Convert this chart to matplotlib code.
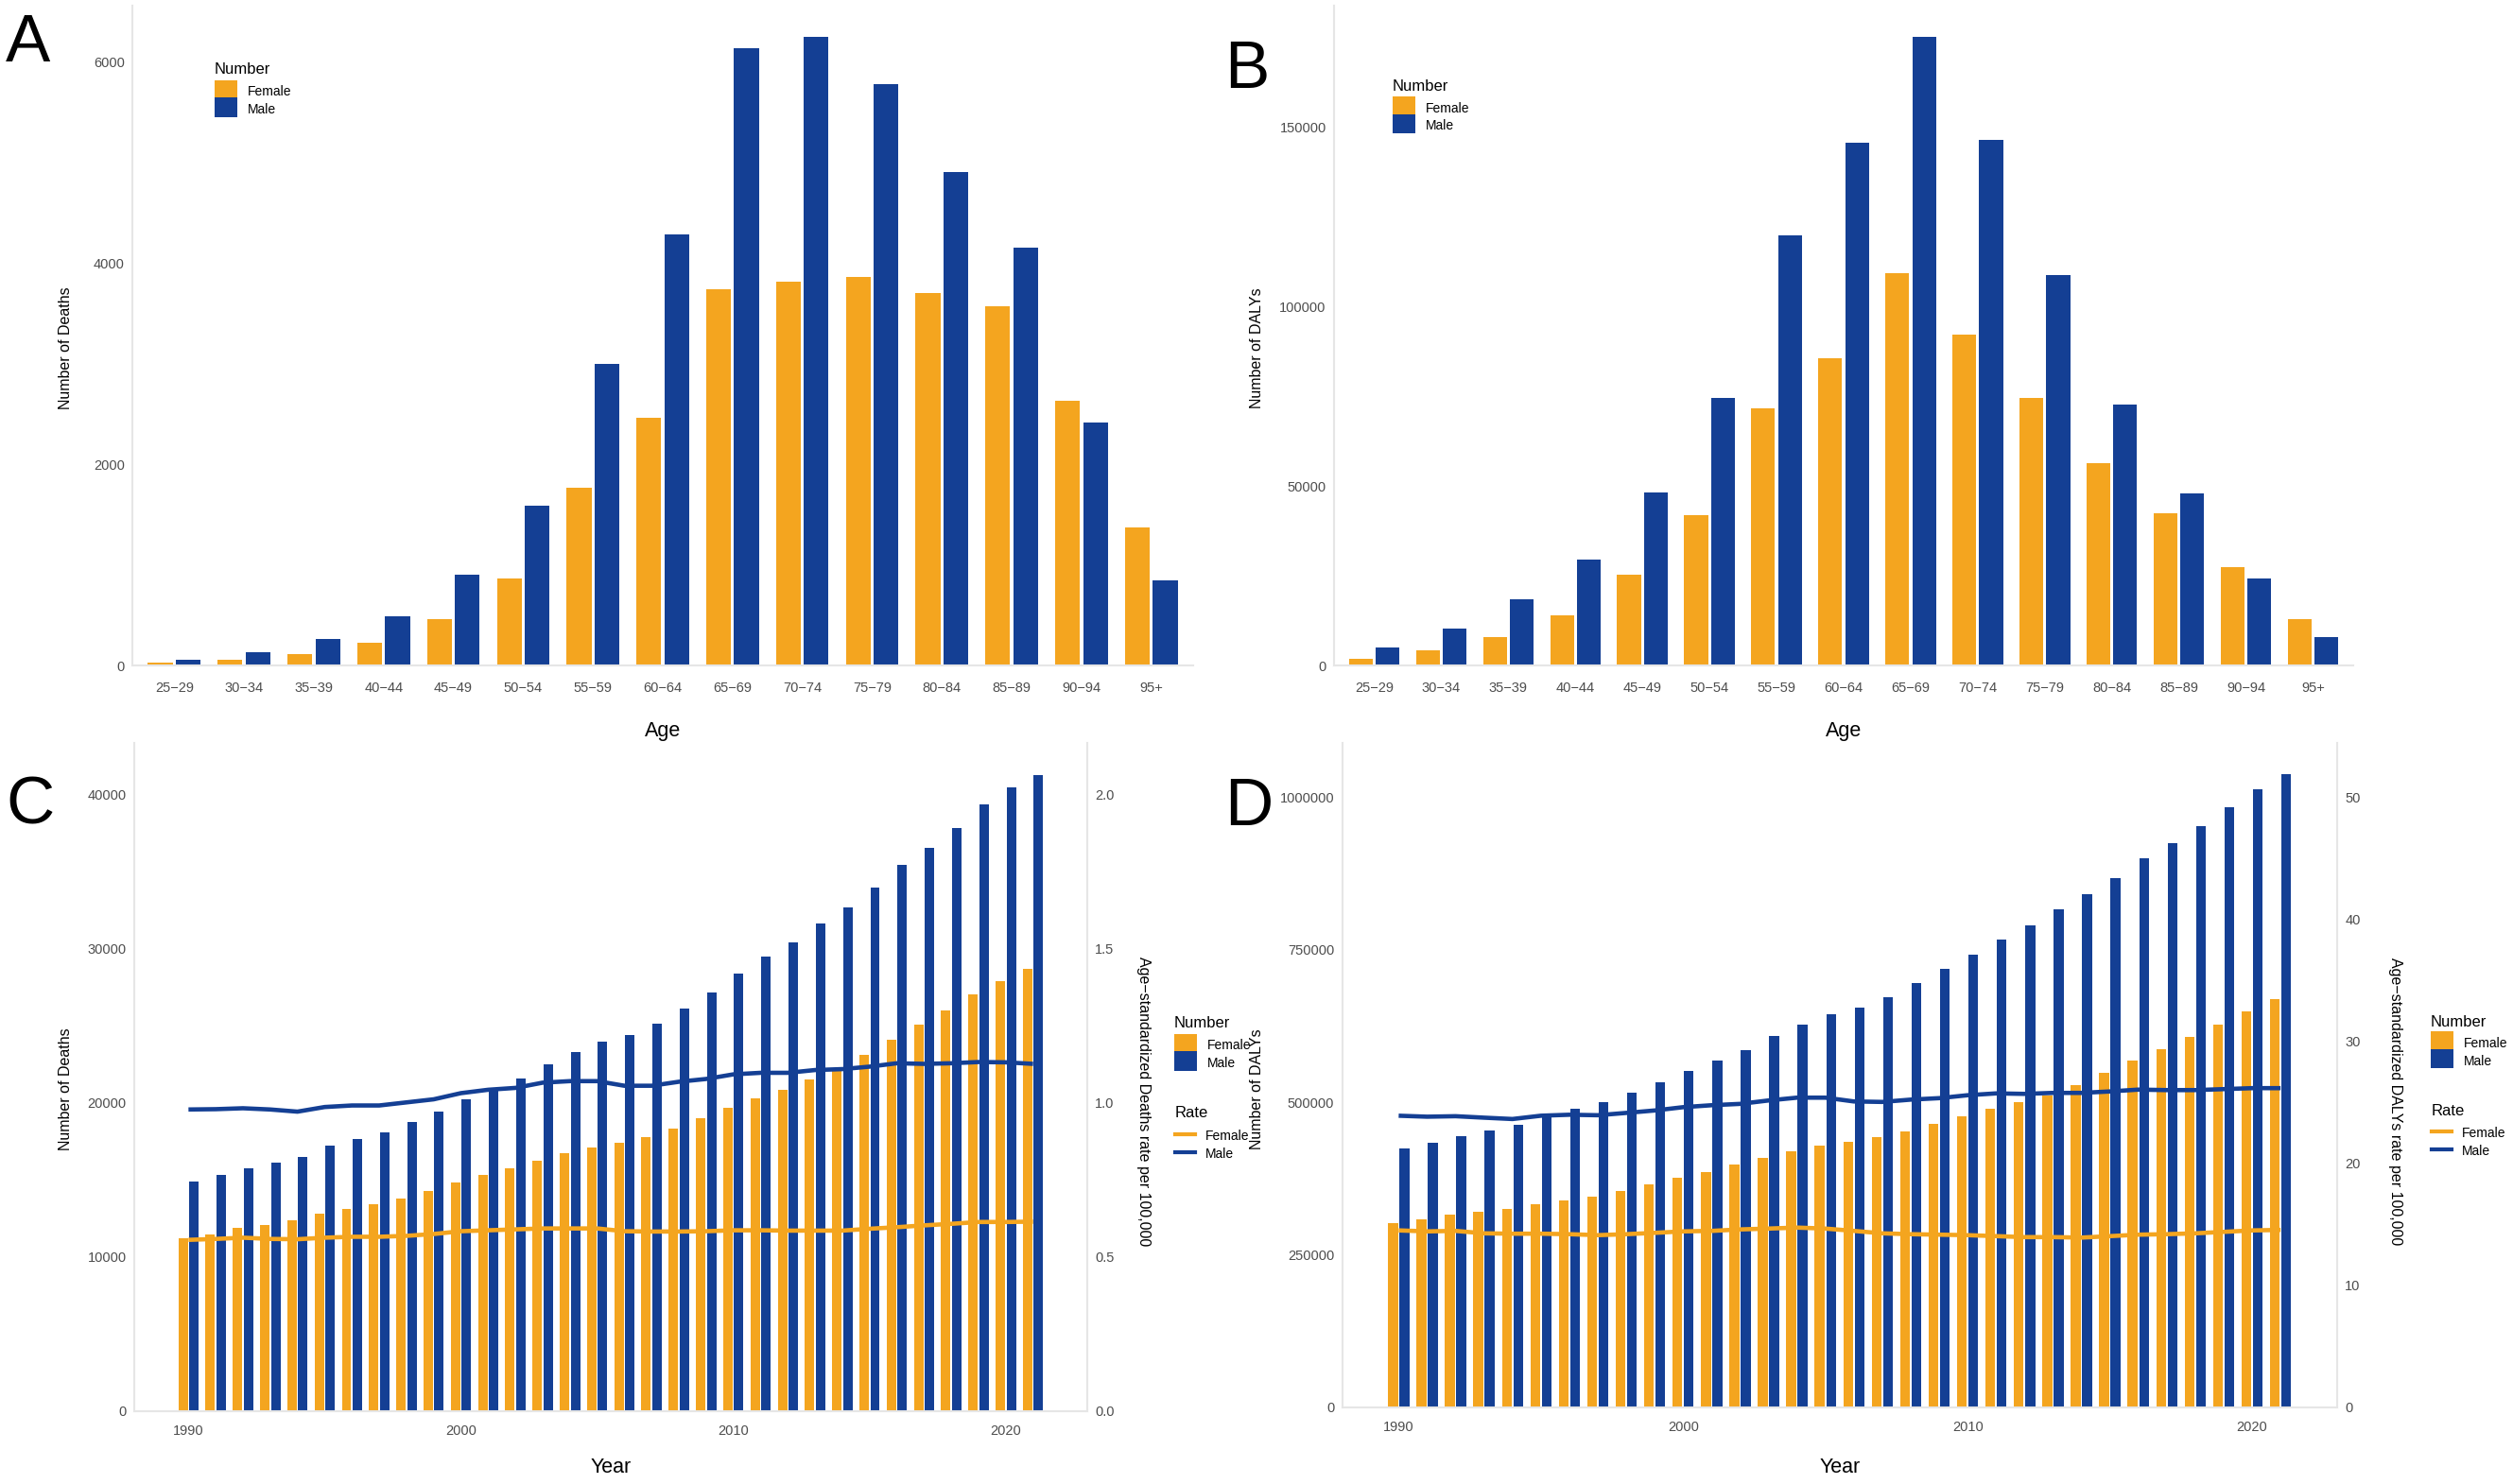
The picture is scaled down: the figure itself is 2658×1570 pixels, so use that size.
import matplotlib
matplotlib.use('Agg')
import matplotlib.pyplot as plt
from matplotlib.patches import Patch, Rectangle
from matplotlib.lines import Line2D
from matplotlib.legend_handler import HandlerPatch
from matplotlib.ticker import FuncFormatter
import numpy as np

# ---- data ----
ages = ['25−29', '30−34', '35−39', '40−44', '45−49', '50−54', '55−59', '60−64',
        '65−69', '70−74', '75−79', '80−84', '85−89', '90−94', '95+']
deaths_female = [24, 52, 109, 222, 464, 866, 1770, 2461, 3743, 3814, 3861, 3705, 3573, 2636, 1377]
deaths_male = [57, 132, 265, 492, 899, 1590, 3000, 4287, 6142, 6251, 5787, 4912, 4155, 2418, 842]
dalys_female = [1720, 4110, 7830, 14060, 25330, 41780, 71750, 85540, 109420, 92180, 74670,
                56500, 42440, 27450, 13000]
dalys_male = [4910, 10350, 18570, 29580, 48140, 74670, 120030, 145620, 175200, 146550, 108890,
              72810, 47880, 24270, 7960]

years = list(range(1990, 2022))
year_deaths_female = [11200, 11470, 11870, 12090, 12370, 12800, 13110, 13420, 13820, 14310, 14870,
                      15330, 15790, 16280, 16720, 17120, 17430, 17800, 18350, 19000, 19680, 20320,
                      20850, 21530, 22200, 23100, 24090, 25070, 26000, 27050, 27880, 28710]
year_deaths_male = [14900, 15330, 15790, 16130, 16500, 17210, 17640, 18100, 18750, 19430, 20260,
                    20850, 21620, 22540, 23320, 23990, 24400, 25170, 26150, 27200, 28400, 29480,
                    30440, 31640, 32720, 33960, 35440, 36580, 37870, 39350, 40490, 41300]
death_rate_female = [0.556, 0.559, 0.563, 0.559, 0.558, 0.563, 0.566, 0.566, 0.569, 0.575, 0.584,
                     0.587, 0.590, 0.593, 0.593, 0.593, 0.584, 0.583, 0.583, 0.584, 0.587, 0.587,
                     0.586, 0.586, 0.586, 0.592, 0.597, 0.603, 0.608, 0.614, 0.614, 0.615]
death_rate_male = [0.979, 0.980, 0.983, 0.979, 0.972, 0.987, 0.992, 0.992, 1.002, 1.012, 1.032,
                   1.043, 1.049, 1.066, 1.071, 1.071, 1.056, 1.056, 1.069, 1.078, 1.093, 1.098,
                   1.098, 1.107, 1.110, 1.118, 1.129, 1.127, 1.129, 1.133, 1.132, 1.127]

year_dalys_female = [302700, 308900, 316700, 320600, 326100, 333100, 339300, 345600, 354900, 365800,
                     376000, 386100, 397800, 409500, 420400, 429800, 435300, 443100, 452400, 464100,
                     477400, 489100, 500800, 511700, 528900, 548400, 567900, 587400, 606900, 627900,
                     649000, 669300]
year_dalys_male = [425100, 434500, 445400, 454000, 462600, 477400, 489900, 500800, 516400, 533500,
                   551500, 567900, 585800, 608400, 627900, 645100, 656000, 673200, 695800, 718400,
                   742600, 767600, 790200, 816700, 840900, 868200, 900900, 925100, 952400, 984400,
                   1014000, 1037400]
daly_rate_female = [14.51, 14.43, 14.47, 14.27, 14.24, 14.24, 14.20, 14.12, 14.20, 14.31, 14.43,
                    14.47, 14.59, 14.66, 14.74, 14.66, 14.47, 14.27, 14.20, 14.16, 14.12, 14.04,
                    13.96, 13.96, 13.92, 14.04, 14.16, 14.20, 14.27, 14.39, 14.51, 14.55]
daly_rate_male = [23.91, 23.83, 23.87, 23.75, 23.64, 23.91, 23.99, 23.95, 24.14, 24.34, 24.61,
                  24.77, 24.88, 25.16, 25.39, 25.39, 25.08, 25.04, 25.23, 25.35, 25.59, 25.74,
                  25.70, 25.78, 25.78, 25.90, 26.05, 26.01, 26.01, 26.09, 26.17, 26.17]

# ---- style ----
W, H = 2658, 1570
plt.rcParams['font.family'] = ['Liberation Sans', 'DejaVu Sans']
ORANGE = '#F4A51F'
BLUE = '#143F94'
LINE_GREY = '#E6E6E6'
TICK_GREY = '#4D4D4D'
SCALE = 20000  # right axis = left axis / SCALE
TICK_FS = 10.5
LEG_FS = 10
LEG_TITLE_FS = 12

fig = plt.figure(figsize=(W / 100, H / 100), dpi=100)


def add_ax(l, t, r, b):
    return fig.add_axes([l / W, 1 - b / H, (r - l) / W, (b - t) / H])


def ftext(x, y, s, **kw):
    fig.text(x / W, 1 - y / H, s, **kw)


def style(ax, xpad):
    for s in ['top', 'right']:
        ax.spines[s].set_visible(False)
    for s in ['left', 'bottom']:
        ax.spines[s].set_color(LINE_GREY)
        ax.spines[s].set_linewidth(1.5)
    ax.tick_params(axis='both', length=0, labelsize=TICK_FS, labelcolor=TICK_GREY)
    ax.tick_params(axis='y', pad=6)
    ax.tick_params(axis='x', pad=xpad)
    ax.yaxis.set_major_formatter(FuncFormatter(lambda v, p: f'{int(round(v))}'))
    ax.set_facecolor('none')


# legend keys filling the whole key box (ggplot style squares)
def full_key(legend, orig_handle, xdescent, ydescent, width, height, fontsize):
    return Rectangle((-xdescent, -ydescent), width, height + ydescent)


def make_legend(ax, handles, title, x, title_y, key_top, hlen):
    # title drawn as its own text, keys anchored at their top-left corner
    ftext(x, title_y, title, fontsize=LEG_TITLE_FS, ha='left', va='center')
    fs_px = LEG_FS * 100 / 72
    leg = ax.legend(handles, ['Female', 'Male'], loc='upper left',
                    bbox_to_anchor=(x / W, 1 - key_top / H), bbox_transform=fig.transFigure,
                    frameon=False, fontsize=LEG_FS, handlelength=hlen / fs_px,
                    handleheight=20.5 / fs_px, labelspacing=2 / fs_px,
                    handletextpad=10.5 / fs_px, borderpad=0, borderaxespad=0,
                    handler_map={Patch: HandlerPatch(patch_func=full_key)})
    return leg


def number_legend(ax, x, title_y, key_top):
    handles = [Patch(facecolor=ORANGE, edgecolor='none'), Patch(facecolor=BLUE, edgecolor='none')]
    return make_legend(ax, handles, 'Number', x, title_y, key_top, 24)


def rate_legend(ax, x, title_y, key_top):
    handles = [Line2D([0], [0], color=ORANGE, lw=3), Line2D([0], [0], color=BLUE, lw=3)]
    return make_legend(ax, handles, 'Rate', x, title_y, key_top, 21)


def age_panel(box, female, male, yticks, ylab_x, letter_xy, leg, letter):
    ax = add_ax(*box)
    x = np.arange(len(ages))
    ax.bar(x - 0.2, female, width=0.355, color=ORANGE)
    ax.bar(x + 0.2, male, width=0.355, color=BLUE)
    ax.set_xlim(-0.6, len(ages) - 0.4)
    ax.set_ylim(0, max(max(female), max(male)) * 1.05)
    ax.set_xticks(x)
    ax.set_xticklabels(ages)
    ax.set_yticks(yticks)
    style(ax, 12)
    number_legend(ax, *leg)
    cx = (box[0] + box[2]) / 2
    ftext(cx, 773, 'Age', fontsize=15.5, ha='center', va='center')
    ftext(ylab_x, 368, ax_ylabels[letter], fontsize=11.5, rotation=90, ha='center', va='center')
    ftext(letter_xy[0], letter_xy[1], letter, fontsize=51, ha='left', va='baseline')
    return ax


def year_panel(box, female, male, rate_f, rate_m, yticks, rticks, rfmt, letter, ylab_x,
               rlab_x, letter_xy, leg_num, leg_rate):
    ax = add_ax(*box)
    yrs = np.array(years)
    ax.bar(yrs - 0.2, female, width=0.345, color=ORANGE)
    ax.bar(yrs + 0.2, male, width=0.345, color=BLUE)
    ax.set_xlim(1988.01, 2022.99)
    top = max(max(female), max(male)) * 1.05
    ax.set_ylim(0, top)
    ax.set_xticks([1990, 2000, 2010, 2020])
    ax.set_yticks(yticks)
    style(ax, 10)

    ax2 = ax.twinx()
    ax2.set_ylim(0, top / SCALE)
    ax2.plot(yrs, rate_f, color=ORANGE, lw=3.3, solid_capstyle='butt')
    ax2.plot(yrs, rate_m, color=BLUE, lw=3.3, solid_capstyle='butt')
    ax2.set_yticks(rticks)
    ax2.yaxis.set_major_formatter(FuncFormatter(rfmt))
    for s in ['top', 'left', 'bottom']:
        ax2.spines[s].set_visible(False)
    ax2.spines['right'].set_color(LINE_GREY)
    ax2.spines['right'].set_linewidth(1.5)
    ax2.tick_params(axis='y', length=0, labelsize=TICK_FS, labelcolor=TICK_GREY, pad=6)

    number_legend(ax, *leg_num)
    rate_legend(ax2, *leg_rate)

    cx = (box[0] + box[2]) / 2
    ftext(cx, 1553, 'Year', fontsize=15.5, ha='center', va='center')
    ftext(ylab_x, 1152, ax_ylabels[letter], fontsize=11.5, rotation=90, ha='center', va='center')
    ftext(rlab_x, 1165, rate_labels[letter], fontsize=11.5, rotation=-90, ha='center', va='center')
    ftext(letter_xy[0], letter_xy[1], letter, fontsize=51, ha='left', va='baseline')
    return ax


ax_ylabels = {'A': 'Number of Deaths', 'B': 'Number of DALYs',
              'C': 'Number of Deaths', 'D': 'Number of DALYs'}
rate_labels = {'C': 'Age−standardized Deaths rate per 100,000',
               'D': 'Age−standardized DALYs rate per 100,000'}

age_panel((140, 6, 1262, 704), deaths_female, deaths_male, [0, 2000, 4000, 6000],
          70, (6, 65), (227, 73, 88.3), 'A')
age_panel((1411, 6, 2489, 704), dalys_female, dalys_male, [0, 50000, 100000, 150000],
          1329, (1295, 93), (1473, 91, 105.8), 'B')

year_panel((142, 786, 1150, 1493), year_deaths_female, year_deaths_male,
           death_rate_female, death_rate_male, [0, 10000, 20000, 30000, 40000],
           [0.0, 0.5, 1.0, 1.5, 2.0], lambda v, p: f'{v:.1f}', 'C', 70, 1209,
           (6, 872), (1242, 1082.5, 1097.3), (1243, 1178, 1193.5))
year_panel((1419.5, 786, 2472, 1489), year_dalys_female, year_dalys_male,
           daly_rate_female, daly_rate_male, [0, 250000, 500000, 750000, 1000000],
           [0, 10, 20, 30, 40, 50], lambda v, p: f'{int(round(v))}', 'D', 1329, 2534,
           (1295, 873), (2571, 1081, 1095), (2572, 1176, 1190.5))

fig.savefig('out.png', dpi=100, facecolor='white')
